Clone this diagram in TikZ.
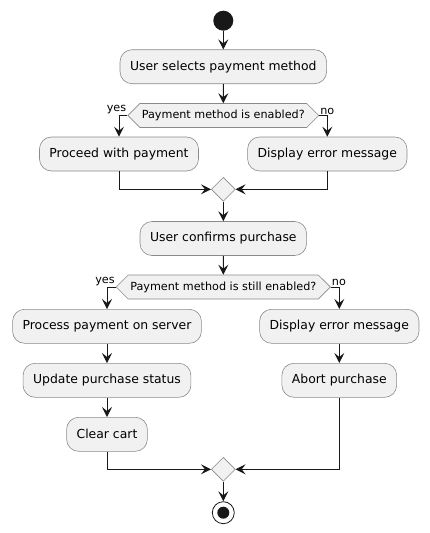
\documentclass[tikz,border=0pt]{standalone}
\usepackage{fontspec}
\setmainfont{DejaVu Sans}
\usetikzlibrary{arrows.meta, shapes.geometric, shapes.symbols}
\definecolor{actfill}{HTML}{F1F1F1}
\definecolor{actline}{HTML}{181818}
\definecolor{actborder}{HTML}{8A8A8A}

\begin{document}
\begin{tikzpicture}[x=1pt, y=-1pt,
          action/.style={rectangle, rounded corners=12pt, draw=actborder, fill=actfill, line width=0.6pt, minimum height=34pt, inner xsep=10pt, font=\fontsize{12.4}{14}\selectfont},
          choice/.style={signal, signal to=east and west, signal pointer angle=90, draw=actborder, fill=actfill, line width=0.6pt, minimum height=24pt, inner xsep=2pt, inner ysep=0pt, font=\fontsize{11.2}{13}\selectfont},
          merge/.style={diamond, draw=actborder, fill=actfill, line width=0.6pt, minimum size=24pt, inner sep=0pt},
          startdot/.style={circle, fill=actline, minimum size=20pt, inner sep=0pt},
          enddot/.style={circle, draw=actline, line width=0.8pt, minimum size=22pt, inner sep=0pt, path picture={\fill[actline] (path picture bounding box.center) circle (6pt);}},
          branch/.style={font=\fontsize{11.2}{13}\selectfont, inner sep=1pt},
          arrow/.style={-{Stealth[length=10pt, width=10pt, inset=4pt]}, line width=1pt, draw=actline}
        ]
          \useasboundingbox (0,0) rectangle (429,533);

          % start and first action
          \node[startdot] (init) at (223.3,20.7) {};
          \node[action] (select) at (223.3,66.7) {User selects payment method};

          % first check
          \node[choice, minimum width=190pt] (enabled) at (223.3,115.5) {Payment method is enabled?};
          \node[branch, anchor=south east] (yes1) at (enabled.west) {yes};
          \node[branch, anchor=south west] (no1) at (enabled.east) {no};
          \node[action] (proceed) at (119,154) {Proceed with payment};
          \node[action] (error1) at (327.3,154) {Display error message};
          \node[merge] (merge1) at (223.3,189.3) {};

          % confirmation
          \node[action] (confirm) at (223.3,238.5) {User confirms purchase};

          % second check
          \node[choice, minimum width=213pt] (still) at (223.3,287) {Payment method is still enabled?};
          \node[branch, anchor=south east] (yes2) at (still.west) {yes};
          \node[branch, anchor=south west] (no2) at (still.east) {no};
          \node[action] (process) at (107,326.3) {Process payment on server};
          \node[action] (update) at (107,380.3) {Update purchase status};
          \node[action] (clear) at (107,434.3) {Clear cart};
          \node[action] (error2) at (339.3,326.3) {Display error message};
          \node[action] (abort) at (339.3,380.3) {Abort purchase};
          \node[merge] (merge2) at (223.3,469.3) {};

          % end
          \node[enddot] (final) at (223.3,512.7) {};

          % main flow
          \draw[arrow] (init) -- (select);
          \draw[arrow] (select) -- (enabled);
          \draw[arrow] (merge1) -- (confirm);
          \draw[arrow] (confirm) -- (still);
          \draw[arrow] (merge2) -- (final);

          % first branches
          \draw[arrow] (enabled.west) -| (proceed.north);
          \draw[arrow] (enabled.east) -| (error1.north);
          \draw[arrow] (proceed.south) |- (merge1.west);
          \draw[arrow] (error1.south) |- (merge1.east);

          % second branches
          \draw[arrow] (still.west) -| (process.north);
          \draw[arrow] (process) -- (update);
          \draw[arrow] (update) -- (clear);
          \draw[arrow] (clear.south) |- (merge2.west);
          \draw[arrow] (still.east) -| (error2.north);
          \draw[arrow] (error2) -- (abort);
          \draw[arrow] (abort.south) |- (merge2.east);
\end{tikzpicture}
\end{document}
